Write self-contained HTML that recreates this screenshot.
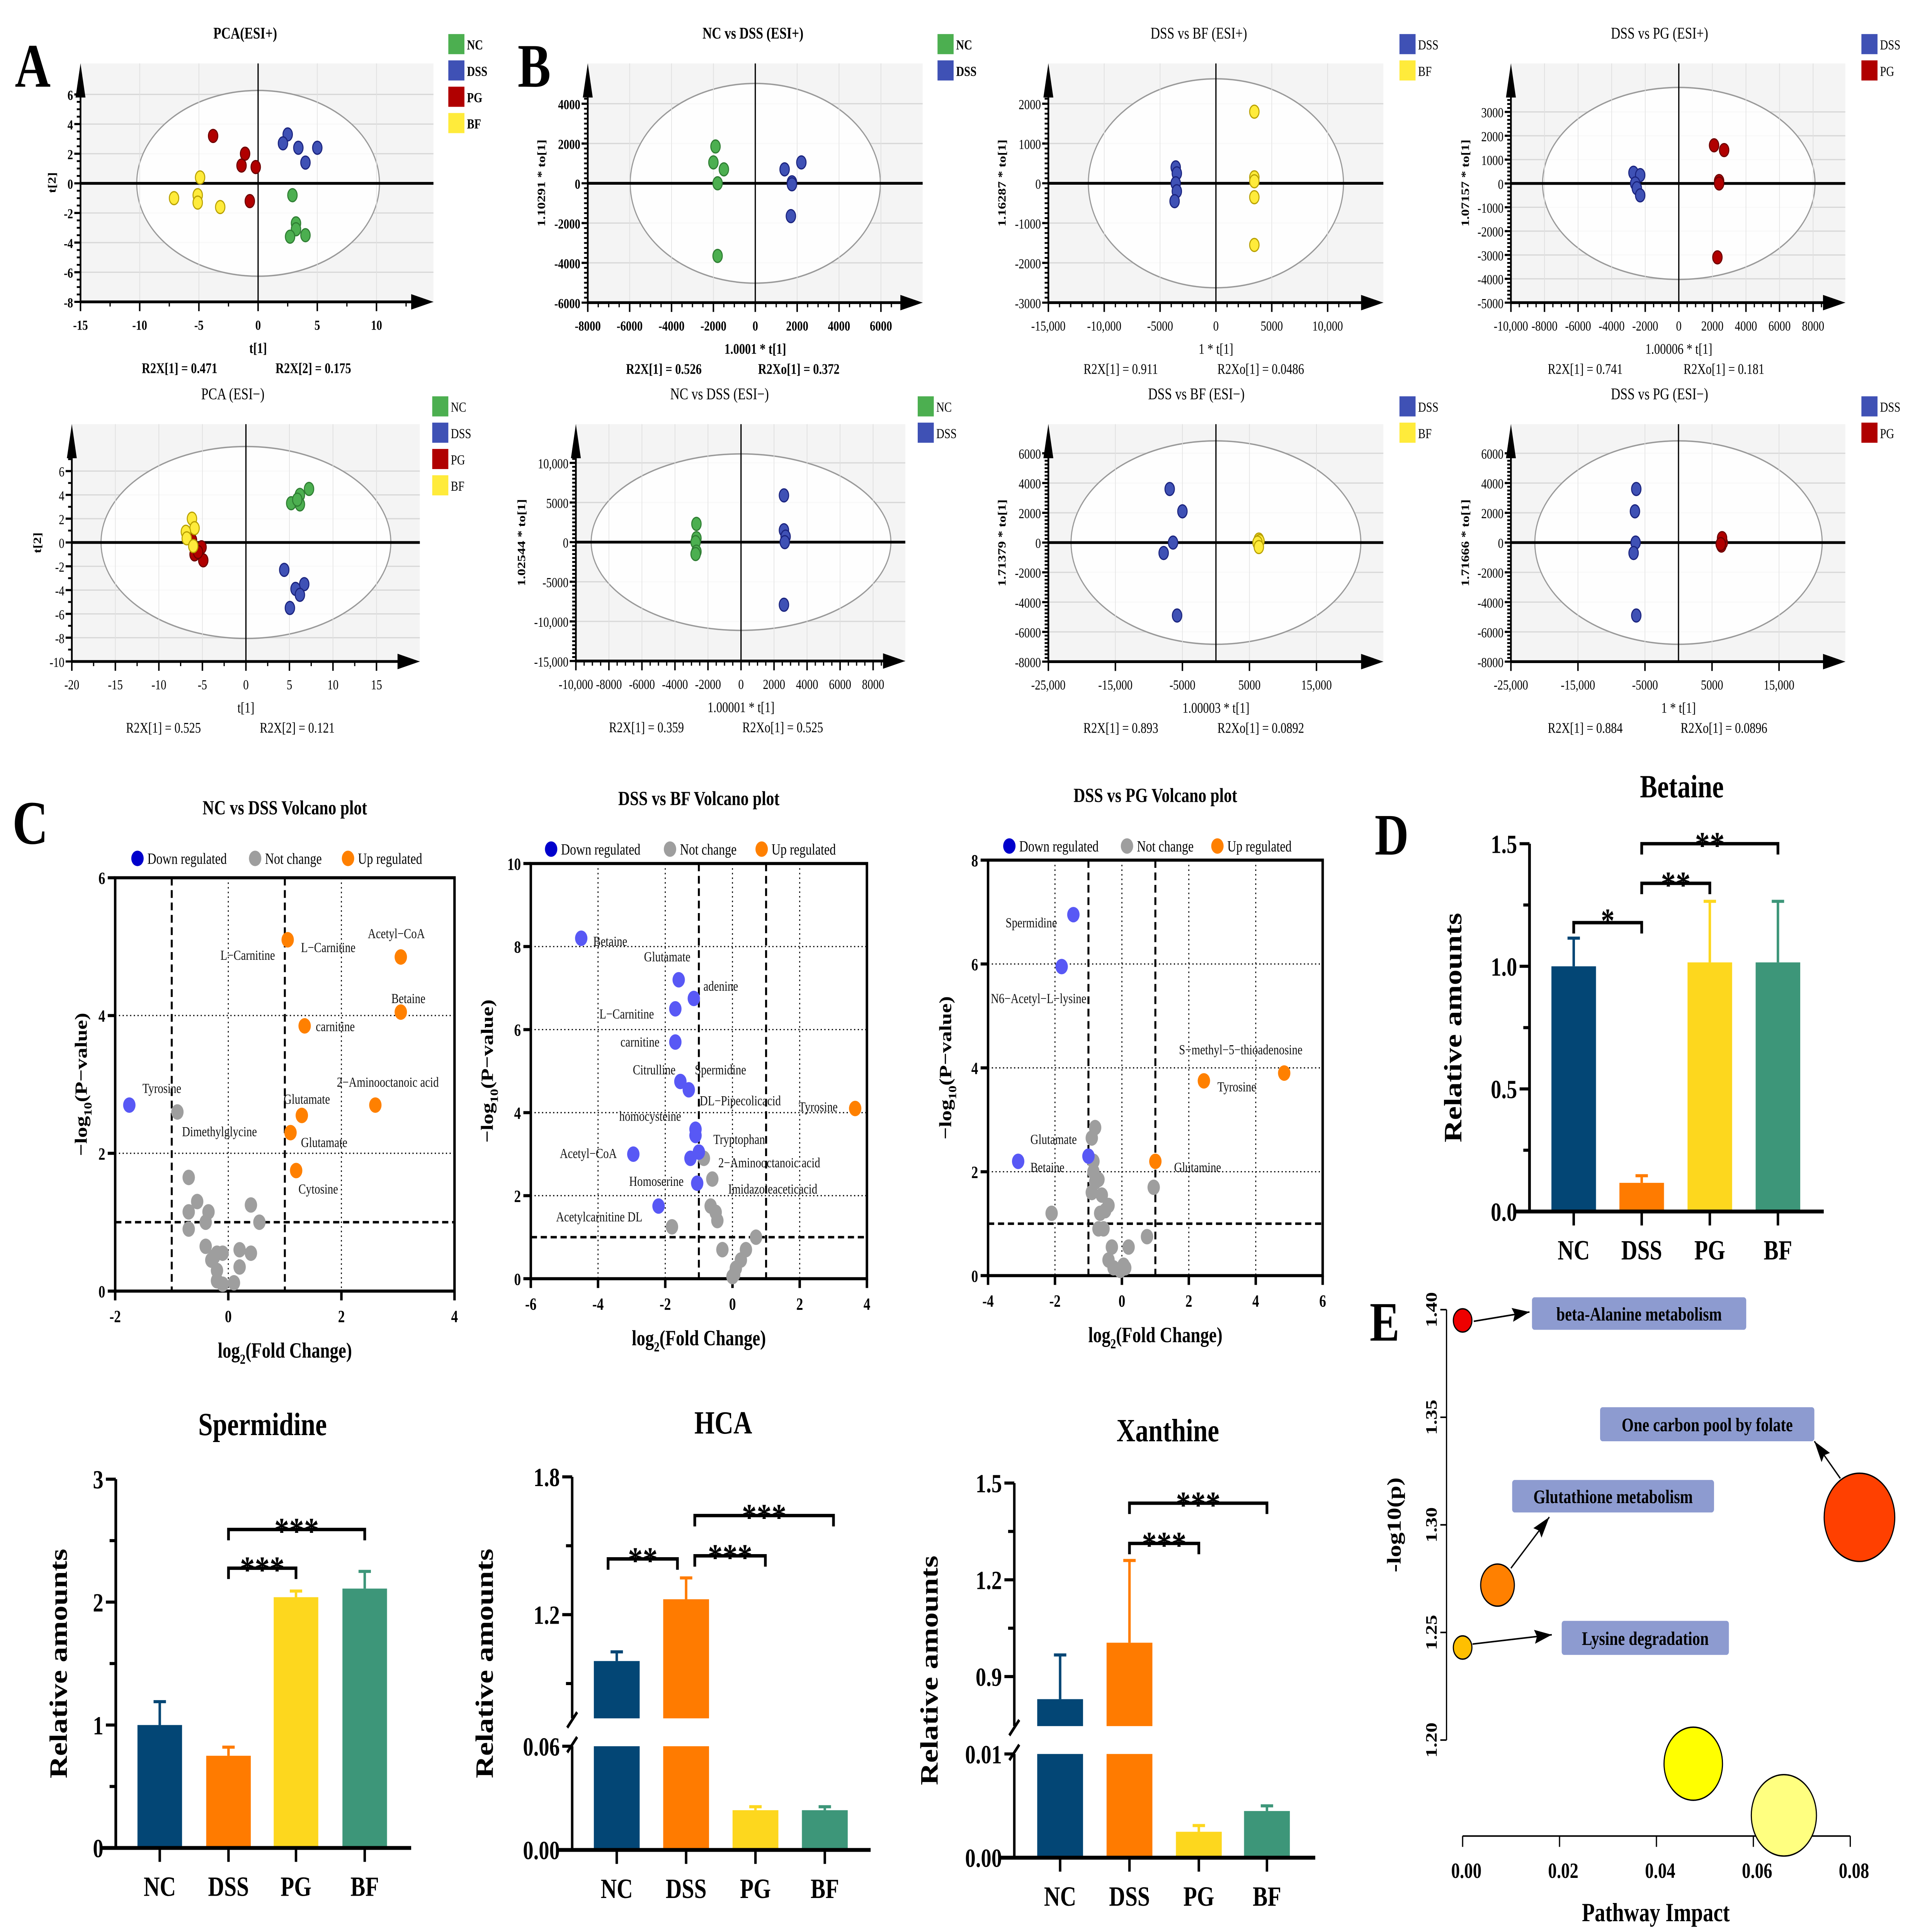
<!DOCTYPE html>
<html><head><meta charset="utf-8"><title>Metabolomics figure</title>
<style>
html,body{margin:0;padding:0;background:#fff;width:100%;height:100%;overflow:hidden;}
svg{display:block;position:fixed;left:0;top:0;width:100vw;height:100vh;}
text{font-family:"Liberation Serif",serif;}
</style></head>
<body>
<svg id="chart" xmlns="http://www.w3.org/2000/svg" width="100%" height="100%" viewBox="0 0 1560 1248" preserveAspectRatio="none" overflow="hidden">
<rect x="0" y="0" width="1560" height="1248" fill="#fff"/>
<text x="12" y="56" font-size="40" font-weight="bold">A</text>
<text x="418" y="56" font-size="40" font-weight="bold">B</text>
<text x="10" y="545" font-size="40" font-weight="bold">C</text>
<text x="1110" y="552" font-size="38" font-weight="bold">D</text>
<text x="1106" y="866" font-size="36" font-weight="bold">E</text>
</svg>
<script>
// ---------- score plot data ----------
const pcaPosNCx=[2.9,3.2,3.2,2.7,4.0], pcaPosNCy=[-0.8,-2.7,-3.1,-3.6,-3.5];
const pcaPosDSSx=[2.5,2.1,3.4,5.0,4.0], pcaPosDSSy=[3.3,2.7,2.4,2.4,1.4];
const pcaPosPGx=[-3.8,-1.1,-1.4,-0.2,-0.7], pcaPosPGy=[3.2,2.0,1.2,1.1,-1.2];
const pcaPosBFx=[-4.9,-5.1,-5.1,-7.1,-3.2], pcaPosBFy=[0.4,-0.8,-1.3,-1.0,-1.6];
const ndPosNCx=[-1900,-2000,-1500,-1800,-1800], ndPosNCy=[1850,1050,700,0,-3650];
const ndPosDSSx=[2200,1400,1750,1750,1700], ndPosDSSy=[1050,700,50,-50,-1650];
const dbPosDSSx=[-3600,-3500,-3600,-3500,-3700], dbPosDSSy=[400,250,0,-200,-450];
const dbPosBFx=[3440,3440,3440,3440,3440], dbPosBFy=[1800,150,50,-350,-1550];
const dpPosDSSx=[-2700,-2300,-2600,-2500,-2300], dpPosDSSy=[450,350,0,-200,-500];
const dpPosPGx=[2100,2700,2400,2400,2300], dpPosPGy=[1600,1400,100,0,-3100];
const pcaNegNCx=[7.25,6.2,5.2,6.2,5.9], pcaNegNCy=[4.5,4.0,3.3,3.2,3.6];
const pcaNegDSSx=[4.4,6.7,5.7,6.2,5.05], pcaNegDSSy=[-2.3,-3.5,-3.9,-4.4,-5.5];
const pcaNegPGx=[-5.1,-5.9,-4.9,-6.2,-5.5], pcaNegPGy=[-0.4,-1.0,-1.5,0.2,-0.8];
const pcaNegBFx=[-6.2,-5.9,-6.9,-6.8,-6.05], pcaNegBFy=[2.0,1.2,0.9,0.35,-0.3];
const ndNegNCx=[-2700,-2700,-2750,-2700,-2750], ndNegNCy=[2300,500,0,-1200,-1500];
const ndNegDSSx=[2600,2600,2700,2650,2600], ndNegDSSy=[5900,1500,700,0,-7900];
const dbNegDSSx=[-6900,-5000,-6400,-7800,-5800], dbNegDSSy=[3600,2100,0,-700,-4900];
const dbNegBFx=[6400,6300,6500,6200,6400], dbNegBFy=[200,-100,100,0,-300];
const dpNegDSSx=[-6300,-6500,-6400,-6700,-6300], dpNegDSSy=[3600,2100,0,-700,-4900];
const dpNegPGx=[6500,6400,6600,6500,6300], dpNegPGy=[100,-200,0,300,-100];

// ---------- volcano data ----------
const v1DownX=[-1.75], v1DownY=[2.7];
const v1NsX=[-0.9,-0.7,-0.55,-0.7,-0.35,-0.4,-0.7,0.4,0.55,-0.4,-0.2,-0.1,0.2,0.4,-0.3,-0.2,0.2,-0.2,-0.1,0.1,-0.25];
const v1NsY=[2.6,1.65,1.3,1.15,1.15,1.0,0.9,1.25,1.0,0.65,0.55,0.55,0.6,0.55,0.45,0.3,0.35,0.15,0.1,0.12,0.5];
const v1UpX=[1.05,3.05,3.05,1.35,2.6,1.3,1.1,1.2], v1UpY=[5.1,4.85,4.05,3.85,2.7,2.55,2.3,1.75];
const v2DownX=[-4.5,-1.6,-1.15,-1.7,-1.7,-1.55,-1.3,-1.1,-1.1,-1.25,-2.95,-2.2,-1.05,-1.0], v2DownY=[8.2,7.2,6.75,6.5,5.7,4.75,4.55,3.6,3.45,2.9,3.0,1.75,2.3,3.05];
const v2NsX=[-0.85,-0.6,-0.65,-0.5,-0.45,-1.8,-0.3,0.7,0.4,0.25,0.1,0.05,0.0], v2NsY=[2.9,2.4,1.75,1.6,1.4,1.25,0.7,1.0,0.7,0.45,0.25,0.1,0.05];
const v2UpX=[3.65], v2UpY=[4.1];
const v3DownX=[-1.45,-1.8,-3.1,-1.0], v3DownY=[6.95,5.95,2.2,2.3];
const v3NsX=[-0.8,-0.9,-0.85,-0.7,-0.9,-0.6,-0.4,-0.8,-0.65,-0.55,-0.3,-0.4,-0.25,0.1,0.2,0.75,0.95,-2.1,-0.7,-0.05,0.05,-0.5,-0.85], v3NsY=[2.85,2.65,2.0,1.85,1.6,1.55,1.35,1.8,1.2,0.9,0.55,0.3,0.15,0.15,0.55,0.75,1.7,1.2,0.9,0.1,0.2,1.25,2.2];
const v3UpX=[4.85,2.45,1.0], v3UpY=[3.9,3.75,2.2];

// ---------- bar data ----------
const barCats=['NC','DSS','PG','BF'];
const betaineVals=[1.0,0.117,1.016,1.016], betaineErrs=[0.115,0.029,0.249,0.249];
const spermVals=[1.0,0.75,2.04,2.11], spermErrs=[0.19,0.07,0.05,0.14];
const hcaVals=[0.998,1.267,0.023,0.023], hcaErrs=[0.04,0.093,0.002,0.002];
const xanVals=[0.83,1.005,0.0025,0.0045], xanErrs=[0.137,0.255,0.0006,0.0005];

// ---------- bubble data ----------
const pathNames=['beta-Alanine metabolism','One carbon pool by folate','Glutathione metabolism','Lysine degradation','',''];
const pathImpact=[0.0,0.0819,0.0072,0.0,0.0476,0.0663];
const pathLogP=[1.395,1.3035,1.272,1.243,1.189,1.165];
const pathSize=[7.5,28.5,13.6,7.5,23.6,26.3];

const NS='http://www.w3.org/2000/svg';
const svg=document.getElementById('chart');
function mk(tag,attrs,name,parent,text){
  const e=document.createElementNS(NS,tag);
  for(const k in attrs) e.setAttribute(k,attrs[k]);
  
  
  if(text!==undefined) e.textContent=text;
  (parent||svg).appendChild(e);
  return e;
}
function lin(v1,p1,v2,p2){return v=>p1+(v-v1)*(p2-p1)/(v2-v1);}
const COL={NC:'#4caf50',DSS:'#3f51b5',PG:'#b00000',BF:'#ffeb3b'};
const STK={NC:'#2e7d32',DSS:'#1a237e',PG:'#6d0000',BF:'#b8a000'};

function scorePlot(c){
  const g=mk('g',{},c.name);
  const sx=lin(c.xs[0],c.xs[1],c.xs[2],c.xs[3]);
  const sy=lin(c.ys[0],c.ys[1],c.ys[2],c.ys[3]);
  const ax=sx(c.xt[0]), ay=sy(c.yt[0]);
  const fw=c.bold?'bold':'normal';
  mk('rect',{x:ax,y:c.top,width:c.right-ax,height:ay-c.top,fill:'#f4f4f4'},'plot-background',g);
  for(const t of c.xt) mk('line',{x1:sx(t),x2:sx(t),y1:c.top,y2:ay,stroke:'#d8d8d8','stroke-width':0.6},'x-gridline',g);
  for(const t of c.yt) mk('line',{x1:ax,x2:c.right,y1:sy(t),y2:sy(t),stroke:'#d8d8d8','stroke-width':0.8},'y-gridline',g);
  mk('ellipse',{cx:sx(0),cy:sy(0),rx:c.erx,ry:c.ery,fill:'#fff','fill-opacity':0.85,stroke:'#999','stroke-width':0.9},'hotelling-ellipse',g);
  for(const t of c.xt) mk('line',{x1:sx(t),x2:sx(t),y1:c.top,y2:ay,stroke:'#e2e2e2','stroke-width':0.5},'x-gridline-inner',g);
  mk('line',{x1:sx(0),x2:sx(0),y1:c.top,y2:ay,stroke:'#000','stroke-width':1},'zero-vline',g);
  mk('line',{x1:ax,x2:c.right,y1:sy(0),y2:sy(0),stroke:'#000','stroke-width':1.8},'zero-hline',g);
  mk('line',{x1:ax,x2:ax,y1:ay,y2:c.top+20,stroke:'#000','stroke-width':1.4},'y-axis',g);
  mk('polygon',{points:`${ax-4},${c.top+22} ${ax+4},${c.top+22} ${ax},${c.top}`,fill:'#000'},'y-axis-arrow',g);
  mk('line',{x1:ax,x2:c.right-14,y1:ay,y2:ay,stroke:'#000','stroke-width':1.8},'x-axis',g);
  mk('polygon',{points:`${c.right-18},${ay-5} ${c.right-18},${ay+5} ${c.right},${ay}`,fill:'#000'},'x-axis-arrow',g);
  const xstep=(c.xt[1]-c.xt[0])/c.xminor, ystep=(c.yt[1]-c.yt[0])/c.yminor;
  for(let v=c.xt[0]; sx(v)<c.right-18; v+=xstep) mk('line',{x1:sx(v),x2:sx(v),y1:ay,y2:ay+3,stroke:'#000','stroke-width':1},'x-minor-tick',g);
  for(let v=c.yt[0]; sy(v)>c.top+22; v+=ystep) mk('line',{x1:ax-3,x2:ax,y1:sy(v),y2:sy(v),stroke:'#000','stroke-width':1.2},'y-minor-tick',g);
  c.xt.forEach((t,i)=>{
    mk('line',{x1:sx(t),x2:sx(t),y1:ay,y2:ay+6,stroke:'#000','stroke-width':1.2},'x-tick',g);
    if(c.xl[i]!=='') mk('text',{x:sx(t),y:ay+18,'font-size':9,'font-weight':fw,'text-anchor':'middle'},'x-tick-label',g,c.xl[i]);
  });
  c.yt.forEach((t,i)=>{
    mk('line',{x1:ax-5,x2:ax,y1:sy(t),y2:sy(t),stroke:'#000','stroke-width':1.4},'y-tick',g);
    mk('text',{x:ax-6,y:sy(t)+3.5,'font-size':9,'font-weight':fw,'text-anchor':'end'},'y-tick-label',g,c.yl[i]);
  });
  c.groups.forEach(gr=>{
    gr.x.forEach((xv,i)=>{
      mk('ellipse',{cx:sx(xv),cy:sy(gr.y[i]),rx:3.8,ry:4.2,fill:COL[gr.k],stroke:STK[gr.k],'stroke-width':0.8},'point-'+gr.k.toLowerCase(),g);
    });
  });
  mk('text',{x:c.tx,y:c.top-16,'font-size':10.5,'font-weight':fw,'text-anchor':'middle'},'plot-title',g,c.title);
  c.groups.forEach((gr,i)=>{
    mk('rect',{x:c.lx,y:c.ly+i*17-6,width:13,height:13,fill:COL[gr.k]},'legend-swatch-'+gr.k.toLowerCase(),g);
    mk('text',{x:c.lx+15,y:c.ly+i*17+4,'font-size':9,'font-weight':fw},'legend-label-'+gr.k.toLowerCase(),g,gr.k);
  });
  mk('text',{x:sx(0),y:ay+33,'font-size':9.5,'font-weight':fw,'text-anchor':'middle'},'x-axis-title',g,c.xlab);
  mk('text',{x:c.ylx,y:(c.top+ay)/2,'font-size':9,'font-weight':'bold','text-anchor':'middle',transform:`rotate(-90 ${c.ylx} ${(c.top+ay)/2})`},'y-axis-title',g,c.ylab);
  mk('text',{x:c.s1x,y:ay+46,'font-size':9.5,'font-weight':fw,'text-anchor':'middle'},'r2x-stat',g,c.s1);
  mk('text',{x:c.s2x,y:ay+46,'font-size':9.5,'font-weight':fw,'text-anchor':'middle'},'r2xo-stat',g,c.s2);
}
const T=(a)=>a.map(v=>{const s=Math.abs(v)>=10000?Math.abs(v).toLocaleString('en-US'):String(Math.abs(v));return (v<0?'-':'')+s;});
function rng(a,b,s){const r=[];for(let v=a;v<=b+1e-9;v+=s)r.push(+v.toFixed(6));return r;}

scorePlot({name:'pca-esi-pos',xs:[-15,65,10,304],ys:[6,61,-8,195],top:41,right:350,erx:98,ery:60,
 xt:rng(-15,10,5),xl:T(rng(-15,10,5)),yt:rng(-8,6,2),yl:T(rng(-8,6,2)),xminor:2,yminor:4,bold:true,
 groups:[{k:'NC',x:pcaPosNCx,y:pcaPosNCy},{k:'DSS',x:pcaPosDSSx,y:pcaPosDSSy},{k:'PG',x:pcaPosPGx,y:pcaPosPGy},{k:'BF',x:pcaPosBFx,y:pcaPosBFy}],
 title:'PCA(ESI+)',tx:198,lx:362,ly:28,xlab:'t[1]',ylab:'t[2]',ylx:45,s1:'R2X[1] = 0.471',s1x:145,s2:'R2X[2] = 0.175',s2x:253});
scorePlot({name:'opls-nc-dss-esi-pos',xs:[-8000,474.6,6000,711.3],ys:[4000,67,-6000,195.5],top:41,right:745,erx:101,ery:64.5,
 xt:rng(-8000,6000,2000),xl:T(rng(-8000,6000,2000)),yt:rng(-6000,4000,2000),yl:T(rng(-6000,4000,2000)),xminor:4,yminor:8,bold:true,
 groups:[{k:'NC',x:ndPosNCx,y:ndPosNCy},{k:'DSS',x:ndPosDSSx,y:ndPosDSSy}],
 title:'NC vs DSS (ESI+)',tx:608,lx:757,ly:28,xlab:'1.0001 * t[1]',ylab:'1.10291 * to[1]',ylx:440,s1:'R2X[1] = 0.526',s1x:536,s2:'R2Xo[1] = 0.372',s2x:645});
scorePlot({name:'opls-dss-bf-esi-pos',xs:[-15000,846.5,10000,1072],ys:[2000,67,-3000,195.5],top:41,right:1117,erx:103,ery:67.5,
 xt:rng(-15000,10000,5000),xl:T(rng(-15000,10000,5000)),yt:rng(-3000,2000,1000),yl:T(rng(-3000,2000,1000)),xminor:5,yminor:8,bold:false,
 groups:[{k:'DSS',x:dbPosDSSx,y:dbPosDSSy},{k:'BF',x:dbPosBFx,y:dbPosBFy}],
 title:'DSS vs BF (ESI+)',tx:968,lx:1130,ly:28,xlab:'1 * t[1]',ylab:'1.16287 * to[1]',ylx:812,s1:'R2X[1] = 0.911',s1x:905,s2:'R2Xo[1] = 0.0486',s2x:1018});
scorePlot({name:'opls-dss-pg-esi-pos',xs:[-10000,1220,8000,1464],ys:[3000,72.3,-5000,195.5],top:41,right:1490,erx:110,ery:62,
 xt:rng(-10000,8000,2000),xl:T(rng(-10000,8000,2000)),yt:rng(-5000,3000,1000),yl:T(rng(-5000,3000,1000)),xminor:4,yminor:6,bold:false,
 groups:[{k:'DSS',x:dpPosDSSx,y:dpPosDSSy},{k:'PG',x:dpPosPGx,y:dpPosPGy}],
 title:'DSS vs PG (ESI+)',tx:1340,lx:1503,ly:28,xlab:'1.00006 * t[1]',ylab:'1.07157 * to[1]',ylx:1186,s1:'R2X[1] = 0.741',s1x:1280,s2:'R2Xo[1] = 0.181',s2x:1392});
scorePlot({name:'pca-esi-neg',xs:[-20,58,15,304],ys:[6,304.3,-10,427.3],top:274,right:339,erx:117,ery:62,
 xt:rng(-20,15,5),xl:T(rng(-20,15,5)),yt:rng(-10,6,2),yl:T(rng(-10,6,2)),xminor:2,yminor:2,bold:false,
 groups:[{k:'NC',x:pcaNegNCx,y:pcaNegNCy},{k:'DSS',x:pcaNegDSSx,y:pcaNegDSSy},{k:'PG',x:pcaNegPGx,y:pcaNegPGy},{k:'BF',x:pcaNegBFx,y:pcaNegBFy}],
 title:'PCA (ESI\u2212)',tx:188,lx:349,ly:262,xlab:'t[1]',ylab:'t[2]',ylx:33,s1:'R2X[1] = 0.525',s1x:132,s2:'R2X[2] = 0.121',s2x:240});
scorePlot({name:'opls-nc-dss-esi-neg',xs:[-10000,465,8000,705],ys:[10000,299,-15000,427],top:274,right:731,erx:121,ery:57,
 xt:rng(-10000,8000,2000),xl:T(rng(-10000,8000,2000)),yt:rng(-15000,10000,5000),yl:T(rng(-15000,10000,5000)),xminor:4,yminor:10,bold:false,
 groups:[{k:'NC',x:ndNegNCx,y:ndNegNCy},{k:'DSS',x:ndNegDSSx,y:ndNegDSSy}],
 title:'NC vs DSS  (ESI\u2212)',tx:581,lx:741,ly:262,xlab:'1.00001 * t[1]',ylab:'1.02544 * to[1]',ylx:424,s1:'R2X[1] = 0.359',s1x:522,s2:'R2Xo[1] = 0.525',s2x:632});
scorePlot({name:'opls-dss-bf-esi-neg',xs:[-25000,846.5,15000,1063],ys:[6000,292.8,-8000,427.4],top:274,right:1117,erx:117,ery:65.7,
 xt:rng(-25000,15000,10000),xl:T(rng(-25000,15000,10000)),yt:rng(-8000,6000,2000),yl:T(rng(-8000,6000,2000)),xminor:1,yminor:8,bold:false,
 groups:[{k:'DSS',x:dbNegDSSx,y:dbNegDSSy},{k:'BF',x:dbNegBFx,y:dbNegBFy}],
 title:'DSS vs BF  (ESI\u2212)',tx:966,lx:1130,ly:262,xlab:'1.00003 * t[1]',ylab:'1.71379 * to[1]',ylx:812,s1:'R2X[1] = 0.893',s1x:905,s2:'R2Xo[1] = 0.0892',s2x:1018});
scorePlot({name:'opls-dss-pg-esi-neg',xs:[-25000,1220,15000,1436.5],ys:[6000,292.8,-8000,427.4],top:274,right:1490,erx:116,ery:65.7,
 xt:rng(-25000,15000,10000),xl:T(rng(-25000,15000,10000)),yt:rng(-8000,6000,2000),yl:T(rng(-8000,6000,2000)),xminor:1,yminor:8,bold:false,
 groups:[{k:'DSS',x:dpNegDSSx,y:dpNegDSSy},{k:'PG',x:dpNegPGx,y:dpNegPGy}],
 title:'DSS vs PG  (ESI\u2212)',tx:1340,lx:1503,ly:262,xlab:'1 * t[1]',ylab:'1.71666 * to[1]',ylx:1186,s1:'R2X[1] = 0.884',s1x:1280,s2:'R2Xo[1] = 0.0896',s2x:1392});

// ---------- volcano ----------
function volcano(c){
  const g=mk('g',{},c.name);
  const sx=lin(c.xmin,c.px0,c.xmax,c.px1), sy=lin(c.ymin,c.py0,c.ymax,c.py1);
  for(const v of c.dx) mk('line',{x1:sx(v),x2:sx(v),y1:c.py1,y2:c.py0,stroke:'#000','stroke-width':0.8,'stroke-dasharray':'1 2'},'dotted-gridline-x',g);
  for(const v of c.dy) mk('line',{x1:c.px0,x2:c.px1,y1:sy(v),y2:sy(v),stroke:'#000','stroke-width':0.8,'stroke-dasharray':'1 2'},'dotted-gridline-y',g);
  for(const v of [-1,1]) mk('line',{x1:sx(v),x2:sx(v),y1:c.py1,y2:c.py0,stroke:'#000','stroke-width':1.6,'stroke-dasharray':'5 3'},'fold-change-threshold',g);
  mk('line',{x1:c.px0,x2:c.px1,y1:sy(1),y2:sy(1),stroke:'#000','stroke-width':1.6,'stroke-dasharray':'5 3'},'p-value-threshold',g);
  mk('rect',{x:c.px0,y:c.py1,width:c.px1-c.px0,height:c.py0-c.py1,fill:'none',stroke:'#000','stroke-width':2},'plot-frame',g);
  c.xt.forEach(t=>{mk('line',{x1:sx(t),x2:sx(t),y1:c.py0,y2:c.py0+6,stroke:'#000','stroke-width':2},'x-tick',g);
    mk('text',{x:sx(t),y:c.py0+20,'font-size':11,'font-weight':'bold','text-anchor':'middle'},'x-tick-label',g,t<0?'-'+(-t):String(t));});
  c.yt.forEach(t=>{mk('line',{x1:c.px0-6,x2:c.px0,y1:sy(t),y2:sy(t),stroke:'#000','stroke-width':2},'y-tick',g);
    mk('text',{x:c.px0-8,y:sy(t)+4,'font-size':11,'font-weight':'bold','text-anchor':'end'},'y-tick-label',g,String(t));});
  const sets=[['not-change',c.nsX,c.nsY,'#9e9e9e'],['down-regulated',c.dnX,c.dnY,'#5858f5'],['up-regulated',c.upX,c.upY,'#ff8000']];
  sets.forEach(s=>s[1].forEach((xv,i)=>mk('circle',{cx:sx(xv),cy:sy(s[2][i]),r:5,fill:s[3]},'point-'+s[0],g)));
  c.labels.forEach(l=>mk('text',{x:l[1],y:l[2],'font-size':9,fill:'#111'},'metabolite-label',g,l[0]));
  mk('text',{x:(c.px0+c.px1)/2,y:c.ty,'font-size':13,'font-weight':'bold','text-anchor':'middle'},'plot-title',g,c.title);
  const L=c.leg;
  [['#0000cc','Down regulated'],['#9e9e9e','Not change'],['#ff8000','Up regulated']].forEach((e,i)=>{
    mk('circle',{cx:L[i],cy:c.ly-3.5,r:5,fill:e[0]},'legend-marker',g);
    mk('text',{x:L[i]+8,y:c.ly,'font-size':10},'legend-label',g,e[1]);
  });
  const xl=mk('text',{x:(c.px0+c.px1)/2,y:c.py0+43,'font-size':14,'font-weight':'bold','text-anchor':'middle'},'x-axis-title',g);
  xl.appendChild(document.createTextNode('log'));
  const s1=document.createElementNS(NS,'tspan');s1.setAttribute('font-size','9');s1.setAttribute('dy','4');s1.textContent='2';xl.appendChild(s1);
  const s2=document.createElementNS(NS,'tspan');s2.setAttribute('dy','-4');s2.textContent='(Fold Change)';xl.appendChild(s2);
  const cy=(c.py0+c.py1)/2;
  const yl=mk('text',{x:c.ylx,y:cy,'font-size':14,'font-weight':'bold','text-anchor':'middle',transform:`rotate(-90 ${c.ylx} ${cy})`},'y-axis-title',g);
  yl.appendChild(document.createTextNode('\u2212log'));
  const t1=document.createElementNS(NS,'tspan');t1.setAttribute('font-size','9');t1.setAttribute('dy','4');t1.textContent='10';yl.appendChild(t1);
  const t2=document.createElementNS(NS,'tspan');t2.setAttribute('dy','-4');t2.textContent='(P\u2212value)';yl.appendChild(t2);
}
volcano({name:'volcano-nc-dss',px0:93,px1:367,py0:834,py1:567,xmin:-2,xmax:4,ymin:0,ymax:6,xt:[-2,0,2,4],yt:[0,2,4,6],dx:[0,2],dy:[2,4],
 dnX:v1DownX,dnY:v1DownY,nsX:v1NsX,nsY:v1NsY,upX:v1UpX,upY:v1UpY,title:'NC vs DSS Volcano plot',ty:526,ly:558,leg:[111,206,281],ylx:70,
 labels:[['L\u2212Carnitine',178,620],['L\u2212Carnitine',243,615],['Acetyl\u2212CoA',297,606],['Betaine',316,648],['carnitine',255,666],['Tyrosine',115,706],['2\u2212Aminooctanoic acid',272,702],['Glutamate',229,713],['Dimethylglycine',147,734],['Glutamate',243,741],['Cytosine',241,771]]});
volcano({name:'volcano-dss-bf',px0:428.6,px1:700,py0:826,py1:557.8,xmin:-6,xmax:4,ymin:0,ymax:10,xt:[-6,-4,-2,0,2,4],yt:[0,2,4,6,8,10],dx:[-4,-2,0,2],dy:[2,4,6,8],
 dnX:v2DownX,dnY:v2DownY,nsX:v2NsX,nsY:v2NsY,upX:v2UpX,upY:v2UpY,title:'DSS vs BF Volcano plot',ty:520,ly:552,leg:[445,541,615],ylx:398,
 labels:[['Betaine',479,611],['Glutamate',520,621],['adenine',568,640],['L\u2212Carnitine',484,658],['carnitine',501,676],['Citrulline',511,694],['Spermidine',561,694],['DL\u2212Pipecolicacid',565,714],['Tyrosine',645,718],['homocysteine',500,724],['Tryptophan',576,739],['Acetyl\u2212CoA',452,748],['2\u2212Aminooctanoic acid',580,754],['Homoserine',508,766],['Imidazoleaceticacid',588,771],['Acetylcarnitine DL',449,789]]});
volcano({name:'volcano-dss-pg',px0:797.8,px1:1068,py0:824,py1:555.6,xmin:-4,xmax:6,ymin:0,ymax:8,xt:[-4,-2,0,2,4,6],yt:[0,2,4,6,8],dx:[-2,0,2,4],dy:[2,4,6],
 dnX:v3DownX,dnY:v3DownY,nsX:v3NsX,nsY:v3NsY,upX:v3UpX,upY:v3UpY,title:'DSS vs PG Volcano plot',ty:518,ly:550,leg:[815,910,983],ylx:768,
 labels:[['Spermidine',812,599],['N6\u2212Acetyl\u2212L\u2212lysine',800,648],['S\u2212methyl\u22125\u2212thioadenosine',952,681],['Tyrosine',983,705],['Glutamate',832,739],['Betaine',832,757],['Glutamine',948,757]]});

// ---------- bar charts ----------
const BARC=['#034675','#ff7b00','#fdd71e','#3d9679'];
function bars(c){
  const g=mk('g',{},c.name);
  let sy, brk=c.brk;
  if(!brk) sy=lin(0,c.y0,c.ymax,c.ytop);
  const lo=brk?lin(0,c.y0,brk.loV,brk.loP):null, up=brk?lin(brk.u1,brk.p1,brk.u2,brk.p2):null;
  const Y=v=>brk?(v<=brk.loV?lo(v):up(v)):sy(v);
  c.vals.forEach((v,i)=>{
    const cx=c.cx[i], w=c.w, col=BARC[i];
    if(brk && v>brk.loV){
      mk('rect',{x:cx-w/2,y:brk.loTop,width:w,height:c.y0-brk.loTop,fill:col},'bar-'+barCats[i].toLowerCase()+'-lower',g);
      mk('rect',{x:cx-w/2,y:up(v),width:w,height:brk.upBot-up(v),fill:col},'bar-'+barCats[i].toLowerCase(),g);
    } else {
      mk('rect',{x:cx-w/2,y:Y(v),width:w,height:c.y0-Y(v),fill:col},'bar-'+barCats[i].toLowerCase(),g);
    }
    const e=v+c.errs[i];
    mk('line',{x1:cx,x2:cx,y1:Y(v),y2:Y(e),stroke:col,'stroke-width':2},'error-bar',g);
    mk('line',{x1:cx-5,x2:cx+5,y1:Y(e),y2:Y(e),stroke:col,'stroke-width':2},'error-cap',g);
    mk('line',{x1:cx,x2:cx,y1:c.y0,y2:c.y0+9,stroke:'#000','stroke-width':2},'x-tick',g);
    mk('text',{x:cx,y:c.y0+31,'font-size':18,'font-weight':'bold','text-anchor':'middle'},'category-label',g,barCats[i]);
  });
  if(brk){
    mk('line',{x1:c.x0,x2:c.x0,y1:c.y0,y2:brk.loTop,stroke:'#000','stroke-width':2},'y-axis-lower',g);
    mk('line',{x1:c.x0,x2:c.x0,y1:brk.upBot,y2:c.ytop,stroke:'#000','stroke-width':2},'y-axis-upper',g);
    mk('line',{x1:c.x0-4,x2:c.x0+4,y1:brk.loTop+4,y2:brk.loTop-6,stroke:'#000','stroke-width':2},'axis-break-mark',g);
    mk('line',{x1:c.x0-4,x2:c.x0+4,y1:brk.upBot+6,y2:brk.upBot-4,stroke:'#000','stroke-width':2},'axis-break-mark',g);
  } else {
    mk('line',{x1:c.x0,x2:c.x0,y1:c.y0,y2:c.ytop,stroke:'#000','stroke-width':2.2},'y-axis',g);
  }
  mk('line',{x1:c.x0-12,x2:c.xEnd,y1:c.y0,y2:c.y0,stroke:'#000','stroke-width':2.5},'x-axis',g);
  c.ticks.forEach((t,i)=>{
    const y=Y(t);
    mk('line',{x1:c.x0-8,x2:c.x0,y1:y,y2:y,stroke:'#000','stroke-width':2},'y-tick',g);
    mk('text',{x:c.x0-10,y:y+6,'font-size':17,'font-weight':'bold','text-anchor':'end'},'y-tick-label',g,c.tl[i]);
  });
  (c.minor||[]).forEach(t=>mk('line',{x1:c.x0-5,x2:c.x0,y1:Y(t),y2:Y(t),stroke:'#000','stroke-width':2},'y-minor-tick',g));
  c.sig.forEach(s=>{
    const xa=c.cx[s[0]]+(s[4]||0), xb=c.cx[s[1]]-(s[5]||0);
    mk('path',{d:`M${xa},${s[3]+7}V${s[3]}H${xb}V${s[3]+7}`,fill:'none',stroke:'#000','stroke-width':2.2},'significance-bracket',g);
    mk('text',{x:(xa+xb)/2,y:s[3]-3+(s[2]==='*'?9:12),'font-size':s[2]==='*'?22:24,'font-weight':'bold','text-anchor':'middle'},'significance-stars',g,s[2]);
  });
  mk('text',{x:c.tx,y:c.ty,'font-size':21,'font-weight':'bold','text-anchor':'middle'},'chart-title',g,c.title);
  const my=(c.y0+c.ytop)/2;
  mk('text',{x:c.ylx,y:my,'font-size':20,'font-weight':'bold','text-anchor':'middle',transform:`rotate(-90 ${c.ylx} ${my})`},'y-axis-title',g,'Relative amounts');
}
bars({name:'bar-betaine',x0:1235,y0:782.6,ytop:545,ymax:1.5,cx:[1270.7,1325.6,1380.6,1435.6],w:36,xEnd:1472.6,vals:betaineVals,errs:betaineErrs,
 ticks:[0,0.5,1.0,1.5],tl:['0.0','0.5','1.0','1.5'],minor:[0.25,0.75,1.25],sig:[[0,1,'*',596],[1,2,'**',570.6],[1,3,'**',545]],title:'Betaine',tx:1358,ty:515,ylx:1180});
bars({name:'bar-spermidine',x0:93.5,y0:1193.7,ytop:955.5,ymax:3,cx:[129,184.5,239,294.5],w:36,xEnd:332,vals:spermVals,errs:spermErrs,
 ticks:[0,1,2,3],tl:['0','1','2','3'],minor:[0.5,1.5,2.5],sig:[[1,2,'***',1013],[1,3,'***',988]],title:'Spermidine',tx:212,ty:927,ylx:54});
bars({name:'bar-hca',x0:462,y0:1195,ytop:954,cx:[498,554,610,666],w:37,xEnd:703,vals:hcaVals,errs:hcaErrs,
 brk:{loV:0.06,loP:1128,u1:1.2,p1:1043,u2:1.8,p2:954,loTop:1128,upBot:1110},
 ticks:[0,0.06,1.2,1.8],tl:['0.00','0.06','1.2','1.8'],minor:[0.9,1.5],sig:[[0,1,'**',1007,-7,7],[1,2,'***',1005,7,-8],[1,3,'***',979,7,-7]],title:'HCA',tx:584,ty:926,ylx:398});
bars({name:'bar-xanthine',x0:819,y0:1200,ytop:958,cx:[856,912,968,1023],w:37,xEnd:1062,vals:xanVals,errs:xanErrs,
 brk:{loV:0.01,loP:1133,u1:0.9,p1:1083,u2:1.5,p2:958,loTop:1133,upBot:1115},
 ticks:[0,0.01,0.9,1.2,1.5],tl:['0.00','0.01','0.9','1.2','1.5'],minor:[1.05,1.35],sig:[[1,2,'***',997],[1,3,'***',971]],title:'Xanthine',tx:943,ty:931,ylx:757});

// ---------- bubble plot ----------
(function(){
  const g=mk('g',{},'pathway-bubble-plot');
  const sx=lin(0,1181,0.08,1494), sy=lin(1.40,846,1.20,1124);
  const cols=['#ee0000','#ff4000','#ff8000','#ffbf00','#ffff00','#ffff80'];
  mk('line',{x1:1168,x2:1168,y1:sy(1.40),y2:sy(1.20),stroke:'#000','stroke-width':1},'y-axis',g);
  mk('line',{x1:sx(0),x2:sx(0.08),y1:1186,y2:1186,stroke:'#000','stroke-width':1},'x-axis',g);
  [1.20,1.25,1.30,1.35,1.40].forEach(t=>{
    mk('line',{x1:1163,x2:1168,y1:sy(t),y2:sy(t),stroke:'#000','stroke-width':1},'y-tick',g);
    mk('text',{x:1160,y:sy(t),'font-size':13,'font-weight':'bold','text-anchor':'middle',transform:`rotate(-90 1160 ${sy(t)})`},'y-tick-label',g,t.toFixed(2));
  });
  [0,0.02,0.04,0.06,0.08].forEach(t=>{
    mk('line',{x1:sx(t),x2:sx(t),y1:1186,y2:1193,stroke:'#000','stroke-width':1},'x-tick',g);
    mk('text',{x:sx(t)+3,y:1213,'font-size':14,'font-weight':'bold','text-anchor':'middle'},'x-tick-label',g,t.toFixed(2));
  });
  pathImpact.forEach((v,i)=>mk('circle',{cx:sx(v),cy:sy(pathLogP[i]),r:pathSize[i],fill:cols[i],stroke:'#000','stroke-width':0.9},'pathway-bubble',g));
  const boxes=[[1237,838,173,21],[1292,909,173,22],[1221,956,163,21],[1261,1047,135,22]];
  boxes.forEach((b,i)=>{
    mk('rect',{x:b[0],y:b[1],width:b[2],height:b[3],rx:2,fill:'#8d9bd0'},'pathway-label-box',g);
    mk('text',{x:b[0]+b[2]/2,y:b[1]+b[3]/2+4.5,'font-size':12.5,'font-weight':'bold','text-anchor':'middle'},'pathway-label',g,pathNames[i]);
  });
  const arr=[[1190,853.5,1235,847.5],[1486,955,1465,931],[1220,1013,1251,980],[1189,1062,1253,1056]];
  arr.forEach(a=>{
    mk('line',{x1:a[0],y1:a[1],x2:a[2],y2:a[3],stroke:'#000','stroke-width':1},'arrow-line',g);
    const ang=Math.atan2(a[3]-a[1],a[2]-a[0]), L=14, W=4.5;
    const bx=a[2]-L*Math.cos(ang), by=a[3]-L*Math.sin(ang);
    mk('polygon',{points:`${a[2]},${a[3]} ${bx-W*Math.sin(ang)},${by+W*Math.cos(ang)} ${bx+2*Math.cos(ang)},${by+2*Math.sin(ang)} ${bx+W*Math.sin(ang)},${by-W*Math.cos(ang)}`,fill:'#000'},'arrow-head',g);
  });
  mk('text',{x:1337,y:1241,'font-size':17,'font-weight':'bold','text-anchor':'middle'},'x-axis-title',g,'Pathway Impact');
  mk('text',{x:1131,y:985,'font-size':16,'font-weight':'bold','text-anchor':'middle',transform:'rotate(-90 1131 985)'},'y-axis-title',g,'-log10(p)');
})();
</script>
</body></html>
